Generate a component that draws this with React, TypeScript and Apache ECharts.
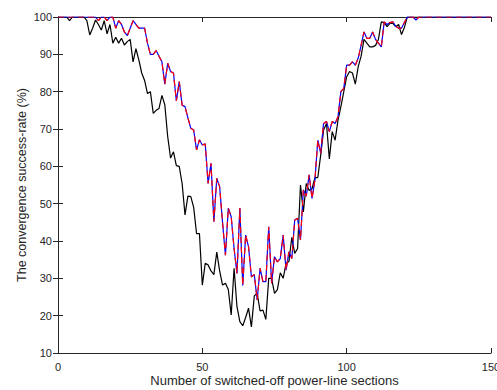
import React, { useEffect, useRef } from "react";
import * as echarts from "echarts";

const xTickValues = [0, 50, 100, 150];
const yTickValues = [10, 20, 30, 40, 50, 60, 70, 80, 90, 100];

// Black series (index = number of switched-off sections, 0..150)
const blackSeries = [
  100, 100, 100, 100, 99, 100, 100, 100, 100, 100,
  99, 95.2, 97, 99.2, 98, 96.5, 99, 95.5, 98, 93,
  94.6, 93, 94.3, 92.5, 93.4, 94, 88, 91.5, 88.5, 85,
  83, 79.5, 80, 74.2, 75, 75.5, 79, 76.5, 68, 62.2,
  63.9, 60.2, 60, 55.4, 47, 52, 51.9, 49, 42, 42,
  28.2, 34, 33.6, 32, 31, 37, 32, 28.2, 28.7, 27,
  20.2, 32.7, 22.4, 18.4, 17.3, 19.5, 22, 17, 25.3, 26,
  21.3, 21.5, 19, 30, 30, 26, 27, 31.5, 30, 34,
  34.5, 41, 36.7, 38, 55, 47.8, 55.4, 53.5, 54, 57,
  57, 63, 69.7, 71.5, 62, 69.3, 67, 72.4, 76, 80,
  84, 85.4, 85, 82, 86.7, 89.5, 94, 93, 92, 92,
  92.4, 94, 98.7, 98.5, 97.4, 98.3, 98.3, 97.4, 98, 95.3,
  97.2, 100, 100, 100, 100, 100, 100, 100, 100, 100,
  100, 100, 100, 100, 100, 100, 100, 100, 100, 100,
  100, 100, 100, 100, 100, 100, 100, 100, 100, 100,
  100,
];

// Blue series
const blueSeries = [
  100, 100, 100, 100, 100, 100, 100, 100, 100, 100,
  100, 100, 100, 100, 99, 100, 100, 99, 100, 100,
  97, 99, 98, 96, 95, 97, 99, 98, 97, 97,
  97, 93, 90, 90, 91, 89.5, 88, 82, 87.6, 85.4,
  85, 77.5, 82.7, 76.4, 76, 73, 70.2, 69.7, 64.4, 67.1,
  65.7, 66, 55.4, 60.8, 45.2, 56.8, 54.5, 45, 36.2, 48.8,
  46.5, 38, 31.3, 48.8, 28.1, 41.6, 38.5, 30.4, 31, 24.2,
  32.7, 29.1, 29.1, 43.8, 28.7, 35.8, 34.4, 35.3, 41.6, 32.2,
  37.1, 35.3, 45.6, 46.1, 40.3, 53.7, 52, 57.7, 51.4, 56.3,
  67, 63.5, 71.5, 72, 69.3, 72, 71.5, 73.3, 80, 80.9,
  87.1, 87.1, 88, 87.1, 89, 92.4, 96, 94.3, 94.3, 96,
  94, 93, 92, 98.7, 98, 98.5, 98.7, 97.5, 97, 97,
  98.5, 100, 100, 100, 99.2, 100, 100, 100, 100, 100,
  100, 100, 100, 100, 100, 100, 100, 100, 100, 100,
  100, 100, 100, 100, 100, 100, 100, 100, 100, 100,
  100,
];

// Red dashed series (overlaps the blue one)
const redSeries = [
  100, 100, 100, 100, 100, 100, 100, 100, 100, 100,
  100, 100, 100, 100, 99, 100, 100, 99, 100, 100,
  97, 99, 98, 96, 95, 97, 99, 98, 97, 97,
  97, 93, 90, 90, 91, 89.5, 88, 82, 87.6, 85.4,
  85, 77.5, 82.7, 76.4, 76, 73, 70.2, 69.7, 64.4, 67.1,
  65.7, 66, 55.4, 60.8, 45.2, 56.8, 54.5, 45, 36.2, 48.8,
  46.5, 38, 31.3, 48.8, 28.1, 41.6, 38.5, 30.4, 31, 24.2,
  32.7, 29.1, 29.1, 43.8, 28.7, 35.8, 34.4, 35.3, 41.6, 32.2,
  37.1, 35.3, 45.6, 46.1, 40.3, 53.7, 52, 57.7, 51.4, 56.3,
  67, 63.5, 71.5, 72, 69.3, 72, 71.5, 73.3, 80, 80.9,
  87.1, 87.1, 88, 87.1, 89, 92.4, 96, 94.3, 94.3, 96,
  94, 93, 92, 98.7, 98, 98.5, 98.7, 97.5, 97, 97,
  98.5, 100, 100, 100, 99.2, 100, 100, 100, 100, 100,
  100, 100, 100, 100, 100, 100, 100, 100, 100, 100,
  100, 100, 100, 100, 100, 100, 100, 100, 100, 100,
  100,
];

const xAxisName = "Number of switched-off power-line sections";
const yAxisName = "The convergence success-rate (%)";

const FONT = "'Liberation Sans', Arial, Helvetica, sans-serif";
const AX = "#262626";

const toPairs = (arr: number[]) => arr.map((v, i) => [i, v]);

export default function App() {
  const ref = useRef<HTMLDivElement>(null);
  useEffect(() => {
    const chart = echarts.init(ref.current!, null, { renderer: "svg" });
    const xMin = xTickValues[0];
    const xMax = xTickValues[xTickValues.length - 1];
    const xInt = xTickValues[1] - xTickValues[0];
    const yMin = yTickValues[0];
    const yMax = yTickValues[yTickValues.length - 1];
    const yInt = yTickValues[1] - yTickValues[0];
    const axisLine = { show: true, lineStyle: { color: AX, width: 1 } };
    const tick = { show: true, inside: true, length: 5, lineStyle: { color: AX, width: 1 } };
    chart.setOption({
      animation: false,
      backgroundColor: "#ffffff",
      grid: { left: 58, right: 6, top: 17, bottom: 37, containLabel: false, outerBoundsMode: "none" },
      xAxis: [
        {
          type: "value",
          min: xMin,
          max: xMax,
          interval: xInt,
          position: "bottom",
          axisLine,
          axisTick: tick,
          splitLine: { show: false },
          axisLabel: {
            color: AX,
            fontSize: 11,
            fontFamily: FONT,
            margin: 8,
            alignMinLabel: "center",
            alignMaxLabel: "center",
            hideOverlap: false,
          },
          name: xAxisName,
          nameLocation: "middle",
          nameGap: 21,
          nameMoveOverlap: false,
          nameTextStyle: { color: AX, fontSize: 13, fontFamily: FONT },
        },
        {
          type: "value",
          min: xMin,
          max: xMax,
          interval: xInt,
          position: "top",
          axisLine,
          axisTick: tick,
          splitLine: { show: false },
          axisLabel: { show: false },
        },
      ],
      yAxis: [
        {
          type: "value",
          min: yMin,
          max: yMax,
          interval: yInt,
          position: "left",
          axisLine,
          axisTick: tick,
          splitLine: { show: false },
          axisLabel: { color: AX, fontSize: 11, fontFamily: FONT, margin: 6 },
          name: yAxisName,
          nameLocation: "middle",
          nameGap: 30,
          nameMoveOverlap: false,
          nameTextStyle: { color: AX, fontSize: 12.5, fontFamily: FONT },
        },
        {
          type: "value",
          min: yMin,
          max: yMax,
          interval: yInt,
          position: "right",
          axisLine,
          axisTick: tick,
          splitLine: { show: false },
          axisLabel: { show: false },
        },
      ],
      series: [
        {
          type: "line",
          data: toPairs(blackSeries),
          showSymbol: false,
          symbol: "none",
          lineStyle: { color: "#000000", width: 1.2 },
          itemStyle: { color: "#000000" },
          xAxisIndex: 0,
          yAxisIndex: 0,
        },
        {
          type: "line",
          data: toPairs(blueSeries),
          showSymbol: false,
          symbol: "none",
          lineStyle: { color: "#0000ff", width: 1.2 },
          itemStyle: { color: "#0000ff" },
          xAxisIndex: 0,
          yAxisIndex: 0,
        },
        {
          type: "line",
          data: toPairs(redSeries),
          showSymbol: false,
          symbol: "none",
          lineStyle: { color: "#ff0000", width: 1.2, type: [6, 4] },
          itemStyle: { color: "#ff0000" },
          xAxisIndex: 0,
          yAxisIndex: 0,
        },
      ],
    });
    return () => chart.dispose();
  }, []);
  return (
    <div
      ref={ref}
      style={{ position: "fixed", left: 0, top: 0, width: 497, height: 390, background: "#fff" }}
    />
  );
}
